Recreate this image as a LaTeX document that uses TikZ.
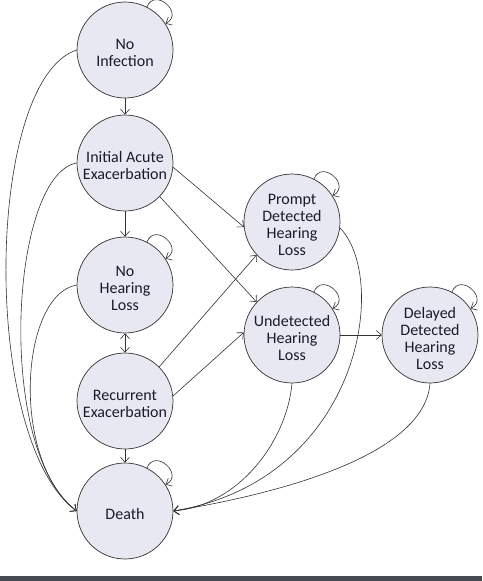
\documentclass[tikz,border=0pt]{standalone}
\usepackage{fontspec}
\setmainfont{Carlito}
\usetikzlibrary{arrows.meta}
\definecolor{nodefill}{HTML}{E8E8F3}
\definecolor{edge}{HTML}{333333}
\definecolor{barcol}{HTML}{464B53}
\definecolor{txt}{HTML}{1A1A2A}
\begin{document}
\begin{tikzpicture}[x=1pt,y=-1pt,
  state/.style={circle,draw=edge,fill=nodefill,line width=0.7pt,minimum size=96pt,inner sep=0pt,
    label={[align=center,font=\fontsize{16}{17}\selectfont,text=txt,yshift=-3pt]center:#1}},
  arr/.style={draw=edge,line width=0.6pt,-{Straight Barb[length=5pt,width=9pt]}},
  darr/.style={draw=edge,line width=0.6pt,{Straight Barb[length=5pt,width=9pt]}-{Straight Barb[length=5pt,width=9pt]}},
  selfloop/.style={arr,out=68,in=28,looseness=2.2}]
\useasboundingbox (0,0) rectangle (482,581);
\fill[white] (0,0) rectangle (482,581);
\fill[barcol] (0,576) rectangle (482,581);

\node[state={No\\Infection}] (ni) at (125,50) {};
\node[state={Initial Acute\\Exacerbation}] (ia) at (125,163) {};
\node[state={No\\Hearing\\Loss}] (nh) at (125,285) {};
\node[state={Recurrent\\Exacerbation}] (re) at (125,401) {};
\node[state={Death}] (de) at (125,511) {};
\node[state={Prompt\\Detected\\Hearing\\Loss}] (pd) at (292,222) {};
\node[state={Undetected\\Hearing\\Loss}] (ud) at (292,335) {};
\node[state={Delayed\\Detected\\Hearing\\Loss}] (dd) at (430,335) {};

% self loops
\draw[selfloop] (ni.63) to (ni.33);
\draw[selfloop] (nh.63) to (nh.33);
\draw[selfloop] (de.63) to (de.33);
\draw[selfloop] (pd.63) to (pd.33);
\draw[selfloop] (ud.63) to (ud.33);
\draw[selfloop] (dd.63) to (dd.33);

% vertical chain
\draw[arr] (ni) -- (ia);
\draw[arr] (ia) -- (nh);
\draw[darr] (nh) -- (re);
\draw[arr] (re) -- (de);

% diagonals
\draw[arr] (ia.-5) -- (pd.186);
\draw[arr] (ia.-44) -- (ud.137);
\draw[arr] (re.45) -- (pd.223);
\draw[arr] (re.6) -- (ud.177);
\draw[arr] (ud) -- (dd);

% left curves to death
\draw[arr] (ni.west) .. controls (-15,80) and (-20,440) .. (de.west);
\draw[arr] (ia.west) .. controls (10,175) and (-5,450) .. (de.west);
\draw[arr] (nh.west) .. controls (20,295) and (10,460) .. (de.west);

% right curves to death
\draw[arr] (pd.-7) .. controls (390,280) and (360,480) .. (de.east);
\draw[arr] (ud.south) .. controls (287,440) and (240,505) .. (de.east);
\draw[arr] (dd.south) .. controls (425,450) and (300,490) .. (de.east);
\end{tikzpicture}
\end{document}
